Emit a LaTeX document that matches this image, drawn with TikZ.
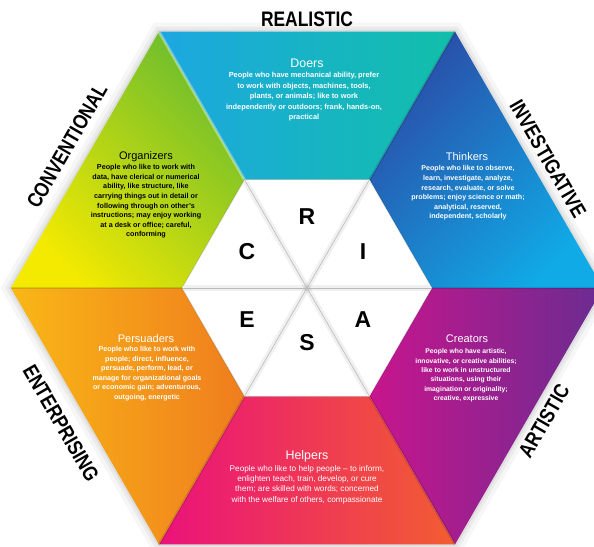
\documentclass[tikz,border=0pt]{standalone}
\usepackage{fontspec}
\setmainfont{Liberation Sans}
\usetikzlibrary{calc}

\definecolor{doersL}{HTML}{1DA7E1}
\definecolor{doersR}{HTML}{12BFA9}
\definecolor{thinkT}{HTML}{2A4DA8}
\definecolor{thinkB}{HTML}{10AAE6}
\definecolor{creatL}{HTML}{C8158D}
\definecolor{creatR}{HTML}{6A2C91}
\definecolor{helpL}{HTML}{EB127B}
\definecolor{helpR}{HTML}{F25D31}
\definecolor{persL}{HTML}{F9B716}
\definecolor{persR}{HTML}{EF7D1E}
\definecolor{orgB}{HTML}{F4EA00}
\definecolor{orgT}{HTML}{6CBD2E}

\newcommand{\narrowtext}[1]{\scalebox{0.83}[1]{#1}}

\tikzset{
	rim/.style={black, opacity=#1, line join=miter},
	crease/.style={black, opacity=0.13, line width=2.5pt},
	innershade/.style={black, opacity=0.06, line width=6pt},
	innerline/.style={gray!55, line width=0.6pt},
	side/.style={inner sep=0pt, font=\fontsize{21}{21}\selectfont\bfseries},
	letter/.style={inner sep=0pt, font=\fontsize{23}{23}\selectfont\bfseries},
	title/.style={text=white, inner sep=0pt, font=\fontsize{#1}{#1}\selectfont},
	blurb/.style args={#1/#2}{text=white, align=center, inner sep=0pt, font=\fontsize{#1}{#2}\selectfont\bfseries},
	plainblurb/.style args={#1/#2}{text=white, align=center, inner sep=0pt, font=\fontsize{#1}{#2}\selectfont}
}

\begin{document}
\begin{tikzpicture}[x=1pt,y=1pt]
	\useasboundingbox (-307,-258) rectangle (287,288);
	\clip (-307,-258) rectangle (287,288);
	\fill[white] (-307,-258) rectangle (287,288);
	% shadow round the rim
	\draw[rim=0.035, line width=18pt] (0:296) -- (60:296) -- (120:296) -- (180:296) -- (240:296) -- (300:296) -- cycle;
	\draw[rim=0.045, line width=10pt] (0:296) -- (60:296) -- (120:296) -- (180:296) -- (240:296) -- (300:296) -- cycle;
	\draw[rim=0.06, line width=4pt] (0:296) -- (60:296) -- (120:296) -- (180:296) -- (240:296) -- (300:296) -- cycle;
	\shade[left color=doersL, right color=doersR] (60:296) -- (120:296) -- (120:125) -- (60:125) -- cycle;
	\shade[top color=thinkT, bottom color=thinkB, shading angle=45] (0:296) -- (60:296) -- (60:125) -- (0:125) -- cycle;
	\shade[left color=creatL, right color=creatR] (300:296) -- (0:296) -- (0:125) -- (300:125) -- cycle;
	\shade[left color=helpL, right color=helpR] (240:296) -- (300:296) -- (300:125) -- (240:125) -- cycle;
	\shade[left color=persL, right color=persR] (180:296) -- (240:296) -- (240:125) -- (180:125) -- cycle;
	\shade[top color=orgT, bottom color=orgB, shading angle=-45] (120:296) -- (180:296) -- (180:125) -- (120:125) -- cycle;
	\draw[crease] (0:125) -- (0:296);
	\draw[crease] (60:125) -- (60:296);
	\draw[white, opacity=0.35, line width=3pt] (120:125) -- (120:296);
	\draw[crease] (180:125) -- (180:296);
	\draw[crease] (240:125) -- (240:296);
	\draw[crease] (300:125) -- (300:296);
	% inner hexagon
	\fill[white] (0:125) -- (60:125) -- (120:125) -- (180:125) -- (240:125) -- (300:125) -- cycle;
	\draw[black, opacity=0.15, line width=1pt] (0:125) -- (60:125) -- (120:125) -- (180:125) -- (240:125) -- (300:125) -- cycle;
	\draw[innershade] (0,0) -- (0:123);
	\draw[innershade] (0,0) -- (60:123);
	\draw[innershade] (0,0) -- (120:123);
	\draw[innershade] (0,0) -- (180:123);
	\draw[innershade] (0,0) -- (240:123);
	\draw[innershade] (0,0) -- (300:123);
	\draw[innerline] (0,0) -- (0:125);
	\draw[innerline] (0,0) -- (60:125);
	\draw[innerline] (0,0) -- (120:125);
	\draw[innerline] (0,0) -- (180:125);
	\draw[innerline] (0,0) -- (240:125);
	\draw[innerline] (0,0) -- (300:125);
	\node[letter] (r) at (0,71) {R};
	\node[letter] (i) at (56,36) {I};
	\node[letter] (a) at (56,-32) {A};
	\node[letter] (s) at (0,-55) {S};
	\node[letter] (e) at (-60,-32) {E};
	\node[letter] (c) at (-60,36) {C};
	% type names on the white rim
	\node[side] (realistic) at (0,269) {\narrowtext{REALISTIC}};
	\node[side, rotate=-60] (investigative) at (241,129) {\narrowtext{INVESTIGATIVE}};
	\node[side, rotate=60] (artistic) at (237,-133) {\narrowtext{ARTISTIC}};
	\node[side, rotate=-60] (enterprising) at (-246,-135) {\narrowtext{ENTERPRISING}};
	\node[side, rotate=60] (conventional) at (-240,142) {\narrowtext{CONVENTIONAL}};
	% descriptions
	\node[title=12.4] (doers) at (0,225) {Doers};
	\node[blurb=7.4/10.5] (doers-text) at (-3,191) {People who have mechanical ability, prefer\\to work with objects, machines, tools,\\plants, or animals; like to work\\independently or outdoors; frank, hands-on,\\practical};
	\node[title=11] (thinkers) at (160,131) {Thinkers};
	\node[blurb=7.1/9.6] (thinkers-text) at (161,95) {People who like to observe,\\learn, investigate, analyze,\\research, evaluate, or solve\\problems; enjoy science or math;\\analytical, reserved,\\independent, scholarly};
	\node[title=11] (creators) at (160,-51) {Creators};
	\node[blurb=6.8/9.4] (creators-text) at (159,-87.5) {People who have artistic,\\innovative, or creative abilities;\\like to work in unstructured\\situations, using their\\imagination or originality;\\creative, expressive};
	\node[title=12.4] (helpers) at (0,-168) {Helpers};
	\node[plainblurb=8.2/10.3] (helpers-text) at (0,-196.5) {People who like to help people -- to inform,\\enlighten teach, train, develop, or cure\\them; are skilled with words; concerned\\with the welfare of others, compassionate};
	\node[title=11] (persuaders) at (-161,-51) {Persuaders};
	\node[blurb=7.1/9.5] (persuaders-text) at (-160,-85.5) {People who like to work with\\people; direct, influence,\\persuade, perform, lead, or\\manage for organizational goals\\or economic gain; adventurous,\\outgoing, energetic};
	\node[title=11, text=black] (organizers) at (-161,131) {Organizers};
	\node[blurb=7.2/9.6, text=black] (organizers-text) at (-161,86.5) {People who like to work with\\data, have clerical or numerical\\ability, like structure, like\\carrying things out in detail or\\following through on other's\\instructions; may enjoy working\\at a desk or office; careful,\\conforming};
\end{tikzpicture}
\end{document}
